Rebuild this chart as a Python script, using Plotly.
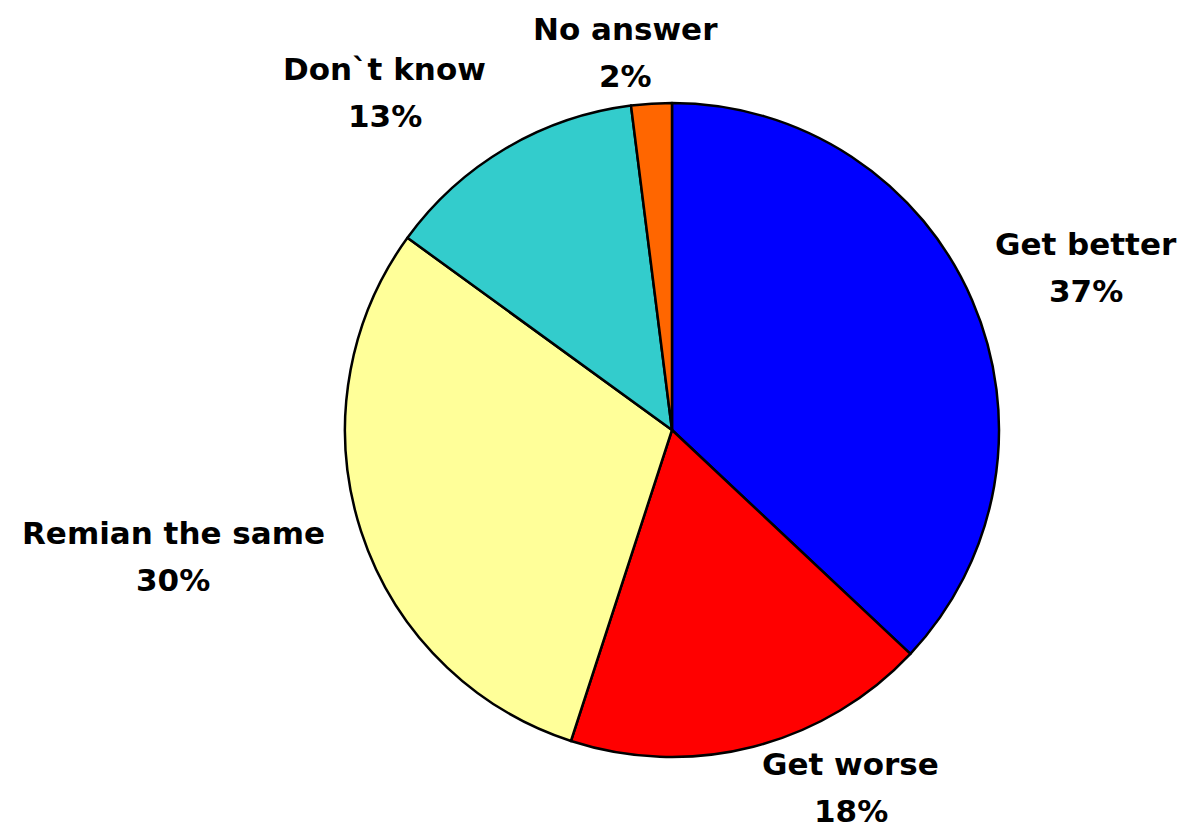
import math
import plotly.graph_objects as go

categories = ["Get better", "Get worse", "Remian the same", "Don`t know", "No answer"]
values = [37, 18, 30, 13, 2]
colors = ["#0000FF", "#FF0000", "#FFFF99", "#33CCCC", "#FF6600"]

W, H = 1189, 840
OFF = 8                          # body margin of the html page
FW, FH = W - 2 * OFF, H - 2 * OFF  # figure size so the page fits the window
cx, cy = 672, 430                # pie centre in window pixels
R = 327                          # pie radius in pixels
RX, RY = 345, 317                # label-placement radii


def to_paper(sx, sy):
    return (sx - OFF) / FW, 1 - (sy - OFF) / FH


# approximate DejaVu Sans Bold advance widths (em)
CW = {" ": .348, "%": 1.002, "`": .5, "G": .821, "D": .830, "N": .837, "R": .770,
      "a": .675, "b": .716, "e": .678, "h": .712, "i": .343, "k": .665, "m": 1.042,
      "n": .712, "o": .687, "r": .493, "s": .595, "t": .478, "w": .924}

FS = 31


def text_w(t):
    return sum(CW.get(ch, .696) for ch in t) * FS


x0, y1 = to_paper(cx - R, cy - R)
x1, y0 = to_paper(cx + R, cy + R)

fig = go.Figure()
fig.add_trace(go.Pie(
    labels=categories,
    values=values,
    sort=False,
    direction="clockwise",
    rotation=0,
    textinfo="none",
    hoverinfo="label+percent",
    marker=dict(colors=colors, line=dict(color="black", width=2.5)),
    domain=dict(x=[x0, x1], y=[y0, y1]),
    showlegend=False,
))

font = dict(family="DejaVu Sans", size=FS, color="black", weight="bold")
total = sum(values)
cum = 0.0
gap = 20
line_h = 47
half_box = 0.66 * FS + 1
for name, v in zip(categories, values):
    mid = (cum + v / 2) / total * 2 * math.pi
    cum += v
    s, c = math.sin(mid), math.cos(mid)
    px = cx + (RX + gap) * s
    py = cy - (RY + gap) * c
    pct = f"{round(v / total * 100)}%"
    w = max(text_w(name), text_w(pct))
    h = 95
    fx = max(-1.0, min(1.0, 4 * s))
    fy = max(-1.0, min(1.0, 1.5 * c))
    bx = px + w / 2 * fx
    by = py - h / 2 * fy
    bx = min(max(bx, OFF + 4 + w / 2), OFF + FW - 4 - w / 2)
    by = min(max(by, OFF + line_h / 2 + half_box), OFF + FH - line_h / 2 - half_box)
    for txt, ty in ((name, by - line_h / 2), (pct, by + line_h / 2)):
        ax, ay = to_paper(bx, ty)
        fig.add_annotation(
            x=ax, y=ay, xref="paper", yref="paper",
            text=txt, showarrow=False, xanchor="center", yanchor="middle",
            font=font,
        )

fig.update_layout(
    width=FW, height=FH,
    margin=dict(l=0, r=0, t=0, b=0),
    paper_bgcolor="white", plot_bgcolor="white",
)
fig.write_html("out.html")
